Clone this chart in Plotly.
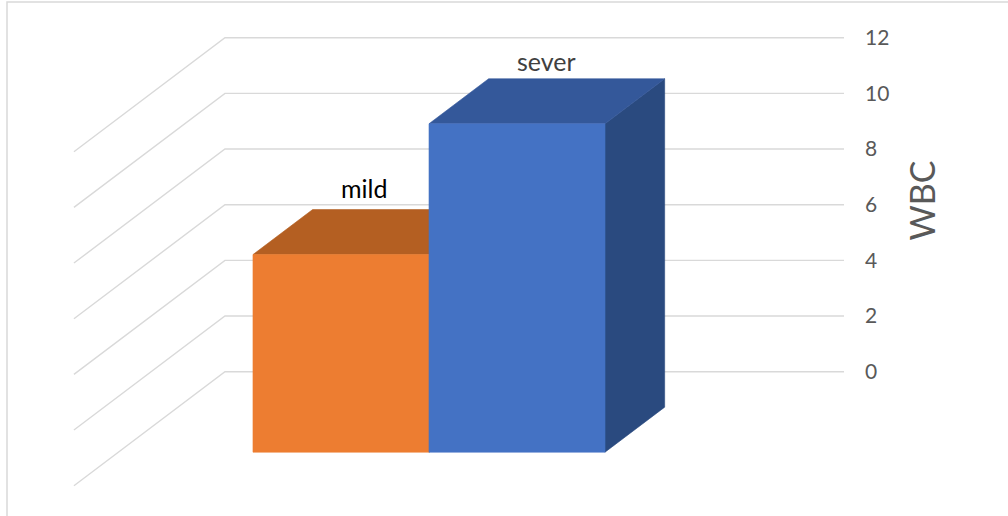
import plotly.graph_objects as go

# ---- data ----
categories = ["mild", "sever"]
wbc = [7.1, 11.8]
label_colors = ["#000000", "#404040"]
front_colors = ["#ED7D31", "#4472C4"]
top_colors = ["#B45F22", "#34589A"]
side_colors = ["#9A501D", "#2A4A7F"]
y_ticks = [0, 2, 4, 6, 8, 10, 12]

# ---- oblique 3D projection (world -> axis data coords) ----
KX = -0.858          # x shift per unit of depth (toward viewer)
KV = -4.096          # value shift per unit of depth
WALL_X0, WALL_X1 = -1.265, 2.252
BAR_HALF = 0.5
Z_BACK, Z_FRONT = 0.311, 0.706
LABEL_SHIFTS = [(-7, 44), (0, 40)]   # pixel nudges for data labels


def proj(x, v, z):
    return x + z * KX, v + z * KV


def poly(points):
    xs, ys = [], []
    for (x, v, z) in points:
        X, Y = proj(x, v, z)
        xs.append(X)
        ys.append(Y)
    xs.append(xs[0])
    ys.append(ys[0])
    return xs, ys


fig = go.Figure()

# walls gridlines (back wall + left side wall)
gx, gy = [], []
for t in y_ticks:
    for (x, z) in [(WALL_X0, 1.0), (WALL_X0, 0.0), (WALL_X1, 0.0)]:
        X, Y = proj(x, t, z)
        gx.append(X)
        gy.append(Y)
    gx.append(None)
    gy.append(None)
fig.add_trace(go.Scatter(x=gx, y=gy, mode="lines",
                         line=dict(color="#D9D9D9", width=1.4),
                         hoverinfo="skip", showlegend=False))

# 3D bars
for i, (cat, v) in enumerate(zip(categories, wbc)):
    x0, x1 = i - BAR_HALF, i + BAR_HALF
    faces = [
        ([(x1, 0, Z_FRONT), (x1, 0, Z_BACK), (x1, v, Z_BACK), (x1, v, Z_FRONT)], side_colors[i]),
        ([(x0, v, Z_FRONT), (x1, v, Z_FRONT), (x1, v, Z_BACK), (x0, v, Z_BACK)], top_colors[i]),
        ([(x0, 0, Z_FRONT), (x1, 0, Z_FRONT), (x1, v, Z_FRONT), (x0, v, Z_FRONT)], front_colors[i]),
    ]
    for pts, col in faces:
        xs, ys = poly(pts)
        fig.add_trace(go.Scatter(x=xs, y=ys, mode="lines", fill="toself",
                                 fillcolor=col, line=dict(color=col, width=0.6),
                                 hoverinfo="skip", showlegend=False))
    # data label above the top face
    Xc, Yc = proj(i, v, (Z_BACK + Z_FRONT) / 2)
    dx, dy = LABEL_SHIFTS[i]
    fig.add_annotation(x=Xc, y=Yc, xref="x", yref="y", text=cat, showarrow=False,
                       xshift=dx, yshift=dy,
                       font=dict(family="Lato", size=25, color=label_colors[i]))

# axis title
fig.add_annotation(x=922 / 844, xref="paper", y=6.15, yref="y", text="WBC",
                   textangle=-90, showarrow=False, xanchor="center", yanchor="middle",
                   font=dict(family="Lato", size=34, color="#595959"))

# chart border (top and left visible)
fig.add_shape(type="rect", xref="paper", yref="paper",
              x0=7 / 844, x1=1.3, y0=-0.1, y1=1 - 2 / 516,
              line=dict(color="#D9D9D9", width=1.5), fillcolor="rgba(0,0,0,0)", layer="below")

fig.update_layout(
    width=1008, height=516,
    margin=dict(l=0, r=164, t=0, b=0),
    paper_bgcolor="white", plot_bgcolor="white",
    font=dict(family="Lato", color="#595959"),
    xaxis=dict(range=[-2.543, 2.252], visible=False, fixedrange=True),
    yaxis=dict(range=[-5.185, 13.356], side="right", tickvals=y_ticks,
               showgrid=False, zeroline=False, showline=False, ticks="",
               tickfont=dict(family="Lato", size=21, color="#595959"),
               ticklabelstandoff=20, fixedrange=True),
    showlegend=False,
)

fig.write_html("out.html")
